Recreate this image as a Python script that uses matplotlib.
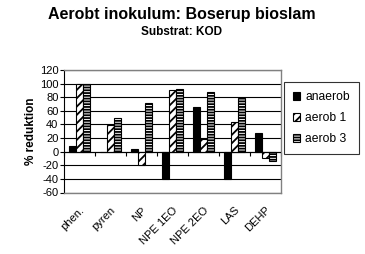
import matplotlib
matplotlib.use("Agg")
import matplotlib.pyplot as plt
import numpy as np

categories = ["phen.", "pyren", "NP", "NPE 1EO", "NPE 2EO", "LAS", "DEHP"]
series_names = ["anaerob", "aerob 1", "aerob 3"]
anaerob = [8, 0, 4, -40, 65, -40, 27]
aerob1 = [100, 39, -19, 90, 18, 44, -10]
aerob3 = [100, 50, 71, 92, 88, 79, -14]
yticks = [-60, -40, -20, 0, 20, 40, 60, 80, 100, 120]

plt.rcParams['font.family'] = ['Liberation Sans', 'DejaVu Sans']
plt.rcParams['hatch.linewidth'] = 1.3

fig = plt.figure(figsize=(3.65, 2.54), dpi=100)
ax = fig.add_axes([64/365, 1 - 192.5/254, 217/365, (192.5-70)/254])

x = np.arange(len(categories))
w = 0.225
styles = [dict(color='black', edgecolor='black'),
          dict(facecolor='white', edgecolor='black', hatch='////'),
          dict(facecolor='white', edgecolor='black', hatch='------')]
handles = []
for i, (vals, st) in enumerate(zip([anaerob, aerob1, aerob3], styles)):
    b = ax.bar(x + (i - 1) * w, vals, w, linewidth=0.8, label=series_names[i], **st, zorder=3)
    handles.append(b)

ax.set_xlim(-0.5, len(categories) - 0.5)
ax.set_ylim(-60, 120)
ax.set_yticks(yticks)
ax.set_yticklabels([str(v) for v in yticks], fontsize=8)
ax.yaxis.grid(True, color='black', linewidth=0.8, zorder=0)
ax.set_axisbelow(True)
ax.tick_params(axis='y', direction='out', length=3, width=0.8, pad=1)

ax.set_xticks(x)
ax.set_xticklabels(categories, rotation=45, ha='right', rotation_mode='anchor', fontsize=8)
ax.tick_params(axis='x', length=0, pad=9)

for s in ['top', 'right', 'bottom']:
    ax.spines[s].set_color('#808080')
    ax.spines[s].set_linewidth(1)
ax.spines['left'].set_color('black')
ax.spines['left'].set_linewidth(0.8)
ax.axhline(0, color='black', linewidth=0.8, zorder=4)

# category-boundary tick marks on the zero line
ylo, yhi = ax.get_ylim()
sec = ax.secondary_xaxis((0 - ylo) / (yhi - ylo))
sec.set_xticks(np.arange(len(categories) + 1) - 0.5)
sec.set_xticklabels([])
sec.tick_params(axis='x', direction='out', length=3, width=0.8, color='black')
sec.spines['bottom'].set_visible(False)

ax.set_ylabel("% reduktion", fontsize=8.5, fontweight='bold', labelpad=2)

fig.text(0.497, 1 - 14/254, "Aerobt inokulum: Boserup bioslam", ha='center', va='center',
         fontsize=11.5, fontweight='bold')
fig.text(0.497, 1 - 32/254, "Substrat: KOD", ha='center', va='center',
         fontsize=8.5, fontweight='bold')

leg = fig.legend(handles=handles, loc='upper left', bbox_to_anchor=(284/365, 1 - 82/254),
                 fontsize=8.7, frameon=True, fancybox=False, edgecolor='black',
                 handlelength=0.6, handleheight=0.6, handletextpad=0.4,
                 labelspacing=0.75, borderpad=0.75, borderaxespad=0)
leg.get_frame().set_linewidth(0.8)

fig.savefig("out.png", dpi=100)
